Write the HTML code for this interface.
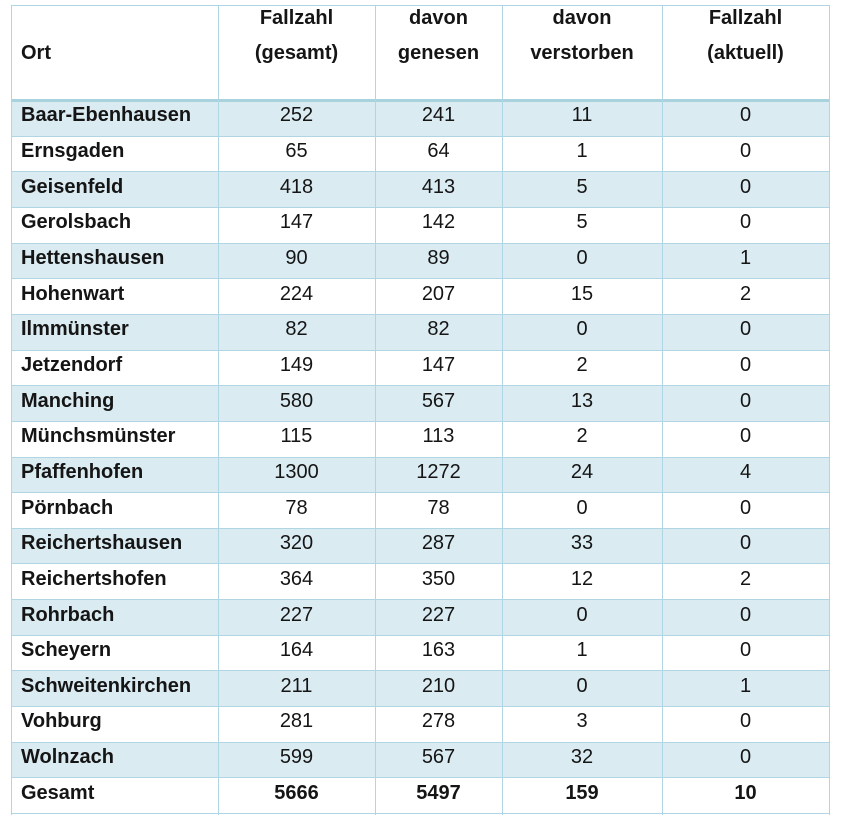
<!DOCTYPE html>
<html>
<head>
<meta charset="utf-8">
<style>
  html,body{margin:0;padding:0;background:#fff;}
  body{width:841px;height:824px;position:relative;overflow:hidden;
       font-family:"Liberation Sans",Arial,sans-serif;font-size:20px;color:#151515;}
  .bg{position:absolute;left:11px;width:818px;background:#daebf2;}
  .h{position:absolute;left:11px;width:819px;height:1px;background:#afd6e2;}
  .v{position:absolute;top:5px;width:1px;height:810px;background:#afd6e2;}
  .t{position:absolute;line-height:22px;white-space:nowrap;}
  .c{text-align:center;}
  .b{font-weight:bold;}
</style>
</head>
<body>
<div id="root"></div>
<script>
(function(){
  var rows=[
    ["Baar-Ebenhausen","252","241","11","0"],
    ["Ernsgaden","65","64","1","0"],
    ["Geisenfeld","418","413","5","0"],
    ["Gerolsbach","147","142","5","0"],
    ["Hettenshausen","90","89","0","1"],
    ["Hohenwart","224","207","15","2"],
    ["Ilmmünster","82","82","0","0"],
    ["Jetzendorf","149","147","2","0"],
    ["Manching","580","567","13","0"],
    ["Münchsmünster","115","113","2","0"],
    ["Pfaffenhofen","1300","1272","24","4"],
    ["Pörnbach","78","78","0","0"],
    ["Reichertshausen","320","287","33","0"],
    ["Reichertshofen","364","350","12","2"],
    ["Rohrbach","227","227","0","0"],
    ["Scheyern","164","163","1","0"],
    ["Schweitenkirchen","211","210","0","1"],
    ["Vohburg","281","278","3","0"],
    ["Wolnzach","599","567","32","0"],
    ["Gesamt","5666","5497","159","10"]
  ];
  var cols=[11,218,375,502,662,829];
  var h="";
  var top0=101, rh=35.65;
  for(var i=0;i<rows.length;i++){
    if(i%2==0 && i<19){
      var y=top0+i*rh;
      h+='<div class="bg" style="top:'+y.toFixed(2)+'px;height:'+rh.toFixed(2)+'px"></div>';
    }
  }
  h+='<div class="h" style="top:5px"></div>';
  h+='<div class="h" style="top:99px;height:3px;background:#a9d2df"></div>';
  for(var i=1;i<=rows.length;i++){
    var y=Math.round(top0+i*rh)-1;
    h+='<div class="h" style="top:'+y+'px"></div>';
  }
  for(var j=0;j<cols.length;j++){
    h+='<div class="v" style="left:'+cols[j]+'px"></div>';
  }
  h+='<div class="t b" style="left:21px;top:41.5px">Ort</div>';
  var hd=[["Fallzahl","(gesamt)"],["davon","genesen"],["davon","verstorben"],["Fallzahl","(aktuell)"]];
  for(var j=0;j<4;j++){
    var l=cols[j+1], w=cols[j+2]-cols[j+1];
    h+='<div class="t b c" style="left:'+l+'px;width:'+w+'px;top:7px">'+hd[j][0]+'</div>';
    h+='<div class="t b c" style="left:'+l+'px;width:'+w+'px;top:41.5px">'+hd[j][1]+'</div>';
  }
  for(var i=0;i<rows.length;i++){
    var y=top0+i*rh+3.4;
    var last=(i==rows.length-1);
    h+='<div class="t b" style="left:21px;top:'+y.toFixed(2)+'px">'+rows[i][0]+'</div>';
    for(var j=0;j<4;j++){
      var l=cols[j+1], w=cols[j+2]-cols[j+1];
      h+='<div class="t c'+(last?' b':'')+'" style="left:'+l+'px;width:'+w+'px;top:'+y.toFixed(2)+'px">'+rows[i][j+1]+'</div>';
    }
  }
  document.getElementById("root").innerHTML=h;
})();
</script>
</body>
</html>
